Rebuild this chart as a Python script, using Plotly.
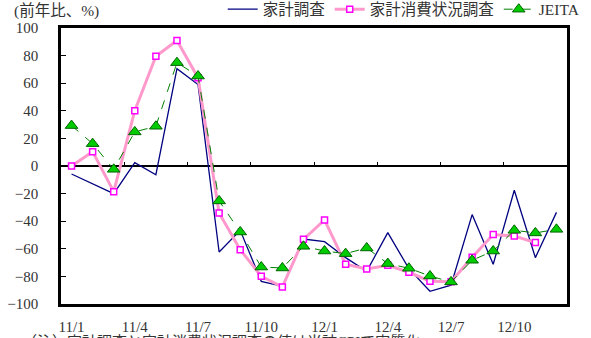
import plotly.graph_objects as go

# Months: Jan 2011 – Dec 2012
months = [f"11/{m}" for m in range(1, 13)] + [f"12/{m}" for m in range(1, 13)]
tick_labels = ["11/1", "11/4", "11/7", "11/10", "12/1", "12/4", "12/7", "12/10"]
y_ticks = [100, 80, 60, 40, 20, 0, -20, -40, -60, -80, -100]

# Year-on-year change (%)
kakei_chosa = [-5.8, -13.0, -20.0, 2.4, -6.3, 70.5, 59.0, -62.3, -46.6, -83.6, -87.2, -52.9,
               -54.8, -66.4, -76.3, -48.3, -74.4, -90.8, -86.4, -35.2, -71.2, -17.6, -66.4, -33.6]
kakei_shohi = [0.0, 10.4, -18.6, 40.1, 79.5, 90.9, 64.0, -34.0, -60.6, -79.9, -87.7, -53.1,
               -39.1, -71.2, -74.6, -72.0, -77.0, -83.6, -83.8, -66.2, -49.7, -50.7, -55.5, None]
jeita = [29.3, 16.2, -2.4, 24.7, 28.8, 74.9, 65.2, -25.3, -47.8, -73.2, -73.9, -58.2,
         -61.6, -63.5, -59.4, -70.7, -74.1, -79.7, -84.0, -68.3, -61.6, -46.6, -48.5, -45.9]

x = list(range(len(months)))
tickvals = [months.index(t) for t in tick_labels]

FONT = "Liberation Serif, Noto Sans CJK JP, serif"

fig = go.Figure()
fig.add_trace(go.Scatter(
    x=x, y=kakei_chosa, name="家計調査", mode="lines",
    line=dict(color="#000080", width=1.3),
))
fig.add_trace(go.Scatter(
    x=x, y=kakei_shohi, name="家計消費状況調査", mode="lines+markers",
    line=dict(color="#ff99cc", width=3),
    marker=dict(symbol="square", size=6, color="white",
                line=dict(color="#ff00ff", width=1.5)),
))
fig.add_trace(go.Scatter(
    x=x, y=jeita, name="JEITA", mode="lines+markers",
    line=dict(color="#008000", width=1, dash="dash"),
    marker=dict(symbol="triangle-up", size=11, color="#00cc00",
                line=dict(color="#006400", width=1)),
))
# helper trace carrying the tick marks drawn along the zero line
fig.add_trace(go.Scatter(
    x=[x[0], x[-1]], y=[0, 0], xaxis="x2", mode="lines",
    line=dict(width=0, color="rgba(0,0,0,0)"), showlegend=False, hoverinfo="skip",
))

fig.update_layout(
    width=591, height=338,
    margin=dict(l=61, r=24, t=28, b=34, autoexpand=False),
    paper_bgcolor="white", plot_bgcolor="white",
    font=dict(family=FONT, size=15, color="#333333"),
    showlegend=True,
    legend=dict(orientation="h", x=1.035, xanchor="right", y=1.005, yanchor="bottom",
                font=dict(size=15.5, color="#333333"), bgcolor="rgba(0,0,0,0)",
                itemwidth=30, tracegroupgap=0),
    xaxis=dict(
        range=[-0.5, len(months) - 0.5], tickvals=tickvals, ticktext=tick_labels,
        ticks="", showgrid=False, zeroline=False,
        showline=True, linecolor="black", linewidth=2.5, mirror=True,
        ticklabelstandoff=7, tickfont=dict(size=15),
    ),
    xaxis2=dict(
        overlaying="x", anchor="free", position=0.5, side="top",
        range=[-0.5, len(months) - 0.5],
        tickvals=[i + 0.5 for i in range(2, len(months) - 1, 3)],
        ticks="outside", ticklen=4, tickwidth=1, tickcolor="black",
        showticklabels=False, showgrid=False, zeroline=False, showline=False,
    ),
    yaxis=dict(
        range=[-100, 100], tickvals=y_ticks, ticks="inside", ticklen=5, tickwidth=1,
        tickcolor="black", showgrid=False,
        zeroline=True, zerolinecolor="black", zerolinewidth=1.5,
        showline=True, linecolor="black", linewidth=2.5, mirror=True,
        ticklabelstandoff=17, tickfont=dict(size=15),
    ),
    annotations=[
        dict(text="(前年比、%)", xref="paper", yref="paper", x=-0.097, y=1.0,
             xanchor="left", yanchor="bottom", yshift=6, showarrow=False,
             font=dict(size=15.5, color="#333333")),
        dict(text="（注）家計調査と家計消費状況調査の値は当該CPIで実質化",
             xref="paper", yref="paper", x=-0.081, y=-0.098,
             xanchor="left", yanchor="top", showarrow=False,
             font=dict(size=15, color="#333333")),
    ],
)

fig.write_html("out.html")
